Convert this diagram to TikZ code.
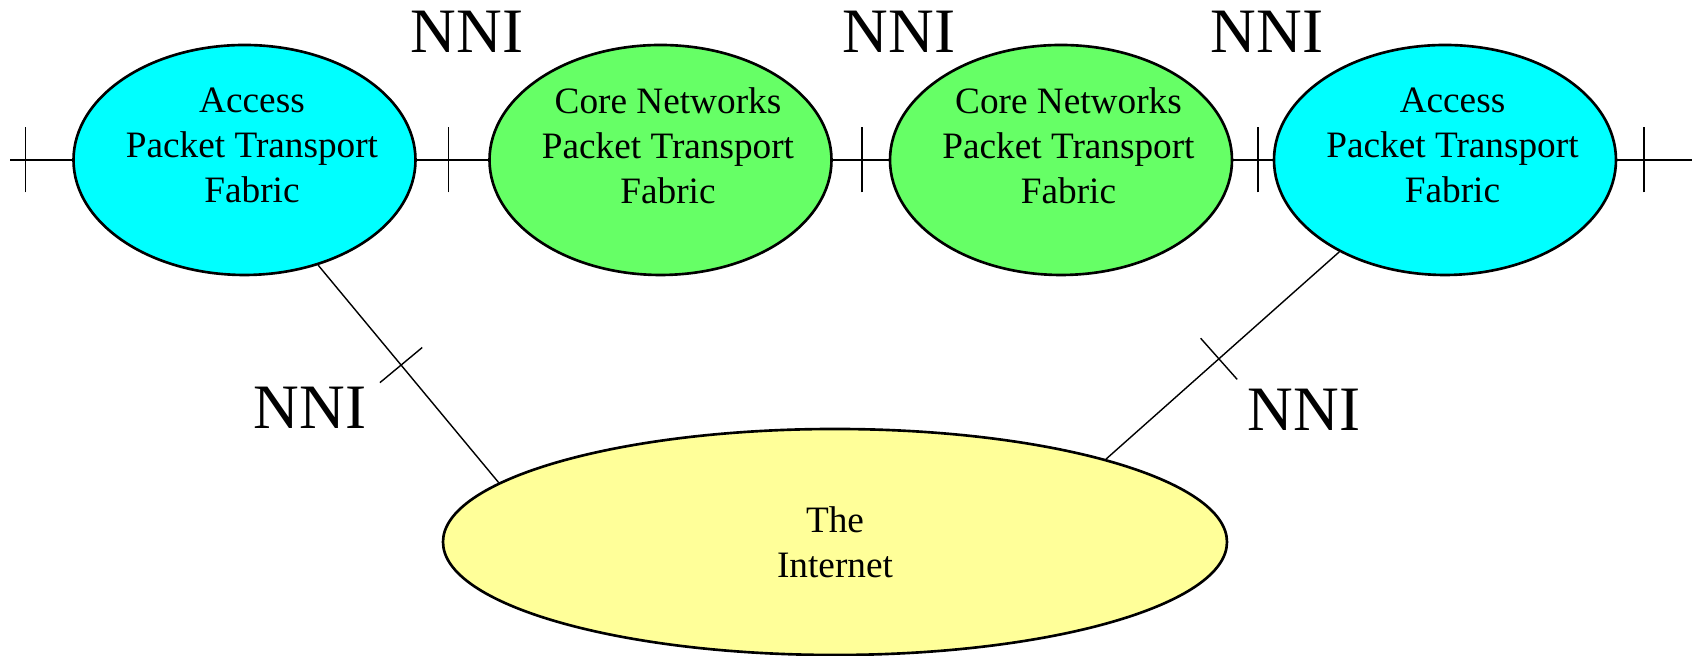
\documentclass[tikz,border=0pt]{standalone}
\usepackage{fontspec}
\setmainfont{Liberation Serif}
\newfontfamily\timesfont{Liberation Serif}
\usetikzlibrary{shapes.geometric, decorations.markings}
\definecolor{accesscyan}{RGB}{0,255,255}
\definecolor{coregreen}{RGB}{102,255,102}
\definecolor{netyellow}{RGB}{255,255,153}
\tikzset{
  fabric/.style={ellipse, draw, line width=0.75pt, inner sep=0pt, minimum width=3.42cm, minimum height=2.3cm},
  fabtext/.style={align=center, font=\timesfont\fontsize{10.6}{12.8}\selectfont},
  nnilabel/.style={font=\timesfont\fontsize{18}{20}\selectfont},
  link/.style={line width=0.4pt},
  nnitick/.style 2 args={postaction={decorate, decoration={markings,
      mark=at position #1 with {\draw[line width=0.4pt] (0,-#2) -- (0,#2);}}}}
}

\begin{document}
\begin{tikzpicture}
  \useasboundingbox (0,0) rectangle (16.96,6.56);

  \node[fabric, fill=accesscyan] (acc1) at (2.445,4.96) {};
  \node[fabric, fill=coregreen] (core1) at (6.605,4.96) {};
  \node[fabric, fill=coregreen] (core2) at (10.61,4.96) {};
  \node[fabric, fill=accesscyan] (acc2) at (14.45,4.96) {};
  \node[fabric, fill=netyellow, minimum width=7.84cm, minimum height=2.26cm] (inet) at (8.35,1.14) {};

  \node[fabtext] (acc1t) at ([shift={(0.75mm,1.45mm)}]acc1) {Access\\Packet Transport\\Fabric};
  \node[fabtext] (core1t) at ([shift={(0.75mm,1.45mm)}]core1) {Core Networks\\Packet Transport\\Fabric};
  \node[fabtext] (core2t) at ([shift={(0.75mm,1.45mm)}]core2) {Core Networks\\Packet Transport\\Fabric};
  \node[fabtext] (acc2t) at ([shift={(0.75mm,1.45mm)}]acc2) {Access\\Packet Transport\\Fabric};
  \node[fabtext] (inett) at (inet) {The\\Internet};

  \coordinate (lend) at (0.10,4.96);
  \coordinate (rend) at (16.92,4.96);

  \draw[link, nnitick={0.254}{0.325}] (lend) -- (acc1);
  \draw[link, nnitick={0.446}{0.325}] (acc1) -- (core1);
  \draw[link, nnitick={0.525}{0.325}] (core1) -- (core2);
  \draw[link, nnitick={0.63}{0.325}] (core2) -- (acc2);
  \draw[link, nnitick={0.355}{0.325}] (acc2) -- (rend);

  \draw[link, nnitick={0.46}{0.275}] (acc1.-55) -- (inet.170);
  \draw[link, nnitick={0.517}{0.275}] (acc2.-139) -- (inet.17);

  \foreach[count=\i] \x in {4.67, 8.99, 12.67}
  \node[nnilabel] (nnitop\i) at (\x, 6.245) {NNI};
  \node[nnilabel] (nnileft) at (3.10, 2.485) {NNI};
  \node[nnilabel] (nniright) at (13.04, 2.46) {NNI};
\end{tikzpicture}
\end{document}
